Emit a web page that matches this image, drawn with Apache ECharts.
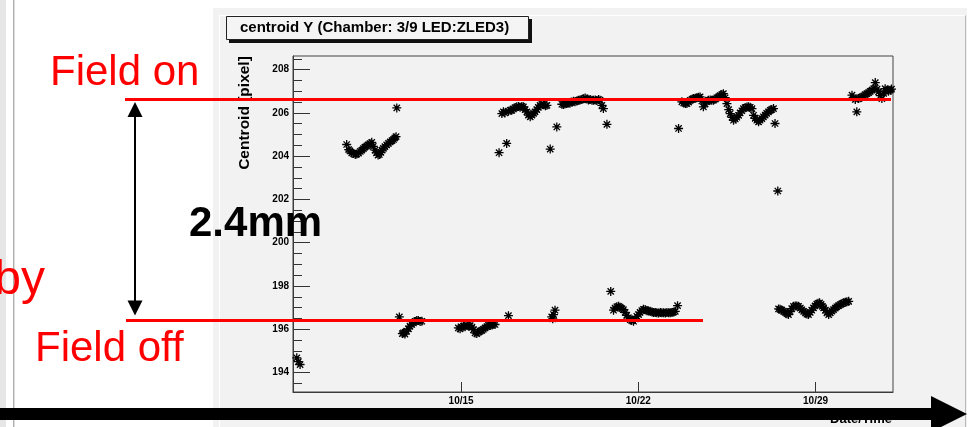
<!DOCTYPE html>
<html>
<head>
<meta charset="utf-8">
<script src="https://cdn.jsdelivr.net/npm/echarts@6/dist/echarts.min.js"></script>
<style>
html,body{margin:0;padding:0;background:#fff;}
#chart{width:970px;height:427px;}
</style>
</head>
<body>
<div id="chart"></div>
<script>
// ---- data (x: day of October, fractional; y: centroid Y [pixel]) ----
const dayOfOctober = [
  8.51, 8.57, 8.64,
  10.48, 10.56, 10.61, 10.68, 10.75, 10.82, 10.88, 10.95, 11.02, 11.08, 11.14, 11.20, 11.27, 11.33, 11.40, 11.47,
  11.53, 11.60, 11.66, 11.72, 11.77, 11.83, 11.88, 11.93, 11.99, 12.06, 12.13, 12.20, 12.27, 12.33, 12.38, 12.43, 12.46,
  12.56, 12.68, 12.72, 12.78, 12.85, 12.92, 12.98, 13.05, 13.12, 13.18, 13.25, 13.31, 13.38, 13.45,
  14.89, 14.96, 15.02, 15.09, 15.16, 15.23, 15.30, 15.36, 15.43, 15.49, 15.55, 15.62, 15.69, 15.75, 15.82, 15.88,
  15.95, 16.02, 16.08, 16.15, 16.22, 16.28, 16.34, 16.87,
  16.50, 16.61, 16.67, 16.73, 16.80, 16.87, 16.94, 17.00, 17.07, 17.13, 17.20, 17.27, 17.33, 17.40, 17.46, 17.53,
  17.60, 17.66, 17.73, 17.80, 17.86, 17.92, 17.99, 18.05, 18.12, 18.19, 18.26, 18.33, 18.39, 18.52, 18.78,
  18.58, 18.62, 18.65, 18.71,
  18.98, 19.04, 19.10, 19.17, 19.24, 19.30, 19.37, 19.44, 19.50, 19.57, 19.64, 19.70, 19.77, 19.84, 19.90, 19.97,
  20.03, 20.10, 20.17, 20.23, 20.30, 20.36, 20.43, 20.49, 20.56, 20.62, 20.76,
  20.91, 21.02, 21.08, 21.15, 21.22, 21.28, 21.35, 21.41, 21.48, 21.54, 21.61, 21.68, 21.74, 21.81, 21.88, 21.94,
  22.01, 22.07, 22.14, 22.20, 22.27, 22.34, 22.40, 22.47, 22.54, 22.60, 22.67, 22.73, 22.80, 22.87, 22.93, 23.00,
  23.07, 23.13, 23.20, 23.26, 23.33, 23.40, 23.46, 23.55,
  23.59, 23.72, 23.79, 23.86, 23.92, 23.99, 24.05, 24.12, 24.18, 24.25, 24.31, 24.38, 24.44, 24.51, 24.57, 24.64,
  24.70, 24.77, 24.84, 24.90, 24.97, 25.04, 25.10, 25.17, 25.23, 25.30, 25.36, 25.43, 25.50, 25.57, 25.63, 25.70,
  25.76, 25.83, 25.89, 25.96, 26.02, 26.09, 26.15, 26.22, 26.29, 26.35, 26.42, 26.49, 26.55, 26.62, 26.68, 26.75,
  26.81, 26.88, 26.94, 27.01, 27.07, 27.14, 27.21, 27.27, 27.34, 27.40, 27.51,
  27.54, 27.60, 27.67, 27.74, 27.80, 27.87, 27.93, 28.00, 28.06, 28.13, 28.20, 28.26, 28.33, 28.40, 28.46, 28.53,
  28.60, 28.66, 28.72, 28.79, 28.85, 28.92, 28.98, 29.05, 29.10, 29.16, 29.22, 29.27, 29.32, 29.39, 29.45, 29.52,
  29.58, 29.65, 29.71, 29.78, 29.84, 29.91, 29.98, 30.04, 30.11, 30.18, 30.24, 30.31,
  30.44, 30.50, 30.57, 30.63, 30.70, 30.76, 30.83, 30.90, 30.96, 31.03, 31.10, 31.16, 31.23, 31.30, 31.36, 31.43,
  31.49, 31.56, 31.62, 31.69, 31.75, 31.82, 31.88, 31.95, 32.00
];
const centroidY = [
  194.68, 194.50, 194.37,
  204.54, 204.30, 204.24, 204.15, 204.12, 204.08, 204.10, 204.14, 204.22, 204.28, 204.35, 204.42, 204.47, 204.52, 204.58, 204.64,
  204.45, 204.28, 204.15, 204.05, 204.08, 204.18, 204.28, 204.36, 204.44, 204.52, 204.59, 204.66, 204.72, 204.77, 204.84, 204.90, 206.23,
  196.57, 195.80, 195.83, 195.78, 195.91, 196.02, 196.14, 196.22, 196.29, 196.36, 196.40, 196.41, 196.36, 196.37,
  196.06, 196.02, 196.10, 196.14, 196.12, 196.18, 196.14, 196.17, 196.10, 195.98, 195.83, 195.80, 195.87, 195.91, 195.95, 196.00,
  196.06, 196.12, 196.18, 196.17, 196.20, 196.24, 196.22, 196.63,
  204.16, 205.97, 206.05, 206.00, 204.59, 206.08, 206.12, 206.12, 206.18, 206.24, 206.28, 206.30, 206.26, 206.30, 206.28, 206.15,
  206.05, 205.90, 205.82, 205.90, 205.98, 206.05, 206.15, 206.26, 206.35, 206.40, 206.38, 206.33, 206.35, 204.33, 205.35,
  196.57, 196.48, 196.68, 196.88,
  206.40, 206.39, 206.41, 206.44, 206.46, 206.45, 206.50, 206.54, 206.52, 206.55, 206.58, 206.60, 206.62, 206.65, 206.69, 206.64,
  206.60, 206.62, 206.58, 206.59, 206.60, 206.57, 206.62, 206.59, 206.35, 206.20, 205.47,
  197.75, 196.88, 196.98, 197.04, 197.06, 197.02, 196.95, 196.91, 196.78, 196.64, 196.53, 196.44, 196.40, 196.37, 196.48, 196.60,
  196.68, 196.78, 196.86, 196.92, 196.91, 196.86, 196.84, 196.83, 196.80, 196.78, 196.77, 196.76, 196.75, 196.77, 196.76, 196.76,
  196.75, 196.77, 196.76, 196.76, 196.78, 196.80, 196.83, 197.09,
  205.28, 206.51, 206.46, 206.44, 206.43, 206.50, 206.58, 206.63, 206.66, 206.68, 206.70, 206.72, 206.74, 206.55, 206.28, 206.42,
  206.52, 206.59, 206.60, 206.58, 206.59, 206.64, 206.70, 206.74, 206.80, 206.85, 206.89, 206.70, 206.43, 206.15, 205.97, 205.80,
  205.66, 205.72, 205.80, 205.89, 206.00, 206.10, 206.20, 206.24, 206.27, 206.28, 206.26, 206.20, 205.89, 205.75, 205.66, 205.59,
  205.66, 205.74, 205.82, 205.90, 205.98, 206.05, 206.12, 206.16, 206.20, 205.51, 202.39,
  196.94, 196.92, 196.88, 196.83, 196.78, 196.72, 196.68, 196.82, 196.95, 197.06, 197.08, 197.07, 197.06, 196.98, 196.90, 196.83,
  196.76, 196.70, 196.68, 196.78, 196.88, 196.99, 197.08, 197.16, 197.20, 197.22, 197.15, 197.06, 196.99, 196.88, 196.76, 196.68,
  196.76, 196.84, 196.91, 196.98, 197.04, 197.09, 197.14, 197.18, 197.22, 197.25, 197.27, 197.29,
  206.82, 206.70, 206.62, 206.05, 206.66, 206.70, 206.74, 206.78, 206.84, 206.89, 206.94, 207.00, 207.05, 207.12, 207.40, 207.10,
  206.97, 206.80, 206.66, 206.90, 207.12, 207.05, 207.00, 207.05, 207.10
];
// axis ticks
const xTickValues = [15, 22, 29];
const xTickLabels = ['10/15', '10/22', '10/29'];
const xTickTimes = ['00:00', '00:00', '00:00'];
const yMajorTicks = [194, 196, 198, 200, 202, 204, 206, 208];
const yMinorTicks = [193.5,194,194.5,195,195.5,196,196.5,197,197.5,198,198.5,199,199.5,200,200.5,201,201.5,202,202.5,203,203.5,204,204.5,205,205.5,206,206.5,207,207.5,208,208.5];
// annotation levels
const fieldOnLevel = 206.62;
const fieldOffLevel = 196.40;

const TEXT_FONT = '"Liberation Sans", Arial, Helvetica, sans-serif';
const points = dayOfOctober.map((d, i) => [d, centroidY[i]]);
const X_MIN = 8.36, X_MAX = 32.06, Y_MIN = 193.1, Y_MAX = 208.63;

const chart = echarts.init(document.getElementById('chart'), null, {renderer: 'canvas'});
const asterisk = 'path://M4,0L4,8M0,4L8,4M1.2,1.2L6.8,6.8M1.2,6.8L6.8,1.2';

chart.setOption({
  animation: false,
  backgroundColor: '#ffffff',
  grid: {left: 293, right: 77, top: 56, bottom: 35, show: true, borderColor: '#444', borderWidth: 1, backgroundColor: 'transparent', z: 1},
  xAxis: {
    type: 'value', min: X_MIN, max: X_MAX,
    axisLine: {show: true, onZero: false, lineStyle: {color: '#333', width: 1}},
    axisTick: {show: true, inside: true, length: 10, customValues: xTickValues, lineStyle: {color: '#333'}},
    axisLabel: {show: true, customValues: xTickValues, margin: 3, fontSize: 10, fontWeight: 'bold', color: '#000', fontFamily: TEXT_FONT, lineHeight: 12,
      formatter: v => { const i = xTickValues.indexOf(v); return i >= 0 ? xTickLabels[i] + '\n' + xTickTimes[i] : ''; }},
    splitLine: {show: false}
  },
  yAxis: [{
    type: 'value', min: Y_MIN, max: Y_MAX, position: 'left',
    axisLine: {show: true, onZero: false, lineStyle: {color: '#333', width: 1}},
    axisTick: {show: true, inside: true, length: 17, customValues: yMajorTicks, lineStyle: {color: '#333'}},
    axisLabel: {show: true, customValues: yMajorTicks, margin: 4, fontSize: 10, fontWeight: 'bold', color: '#000', fontFamily: TEXT_FONT},
    splitLine: {show: false}
  }, {
    type: 'value', min: Y_MIN, max: Y_MAX, position: 'left',
    axisLine: {show: false},
    axisTick: {show: true, inside: true, length: 9, customValues: yMinorTicks, lineStyle: {color: '#333'}},
    axisLabel: {show: false},
    splitLine: {show: false}
  }],
  series: [{
    type: 'scatter', data: points, symbol: asterisk, symbolSize: 9, z: 3,
    itemStyle: {color: '#000', borderColor: '#000', borderWidth: 1.3, opacity: 1}
  }]
});

const onY = chart.convertToPixel({yAxisIndex: 0}, fieldOnLevel);
const offY = chart.convertToPixel({yAxisIndex: 0}, fieldOffLevel);

chart.setOption({
  graphic: [
    // ROOT canvas background
    {type: 'rect', z: -10, silent: true, shape: {x: 213, y: 8, width: 754, height: 430}, style: {fill: '#f2f2f2'}},
    {type: 'line', z: -9, shape: {x1: 219.5, y1: 15.5, x2: 965, y2: 15.5}, style: {stroke: '#ffffff', lineWidth: 1}},
    {type: 'line', z: -9, shape: {x1: 219.5, y1: 15.5, x2: 219.5, y2: 427}, style: {stroke: '#ffffff', lineWidth: 1}},
    {type: 'line', z: -9, shape: {x1: 965.5, y1: 15.5, x2: 965.5, y2: 427}, style: {stroke: '#b8b8b8', lineWidth: 1}},
    // slide left window border
    {type: 'rect', z: -10, shape: {x: 0, y: 0, width: 6, height: 427}, style: {fill: '#e6e6e6'}},
    {type: 'line', z: -9, shape: {x1: 13.5, y1: 0, x2: 13.5, y2: 427}, style: {stroke: '#b0b0b0', lineWidth: 1}},
    {type: 'line', z: -9, shape: {x1: 14.5, y1: 0, x2: 14.5, y2: 427}, style: {stroke: '#dcdcdc', lineWidth: 1}},
    // title box
    {type: 'rect', z: 5, shape: {x: 229, y: 19, width: 303, height: 24}, style: {fill: '#111'}},
    {type: 'rect', z: 6, shape: {x: 226.5, y: 16.5, width: 302, height: 23}, style: {fill: '#f4f4f4', stroke: '#222', lineWidth: 1}},
    {type: 'text', z: 7, x: 240, y: 28, style: {text: 'centroid Y (Chamber: 3/9 LED:ZLED3)', font: 'bold 15px ' + TEXT_FONT, fill: '#000', verticalAlign: 'middle', align: 'left'}},
    // y axis title
    {type: 'text', z: 7, x: 245, y: 113, rotation: Math.PI / 2, style: {text: 'Centroid [pixel]', font: 'bold 15.5px ' + TEXT_FONT, fill: '#000', align: 'center', verticalAlign: 'middle'}},
    // Date/Time
    {type: 'text', z: 7, x: 892, y: 419, style: {text: 'Date/Time', font: 'bold 13px ' + TEXT_FONT, fill: '#000', align: 'right', verticalAlign: 'middle'}},
    // red level lines
    {type: 'line', z: 20, shape: {x1: 125, y1: onY, x2: 891, y2: onY}, style: {stroke: '#ff0000', lineWidth: 3}},
    {type: 'line', z: 20, shape: {x1: 126, y1: offY, x2: 703, y2: offY}, style: {stroke: '#ff0000', lineWidth: 3}},
    // vertical double arrow
    {type: 'line', z: 20, shape: {x1: 135, y1: onY + 12, x2: 135, y2: offY - 14}, style: {stroke: '#000', lineWidth: 2}},
    {type: 'polygon', z: 20, shape: {points: [[135, onY + 2.5], [127.5, onY + 17.5], [142.5, onY + 17.5]]}, style: {fill: '#000'}},
    {type: 'polygon', z: 20, shape: {points: [[135, offY - 5], [127.5, offY - 20], [142.5, offY - 20]]}, style: {fill: '#000'}},
    // slide texts
    {type: 'text', z: 21, x: 50, y: 73, style: {text: 'Field on', font: '42px ' + TEXT_FONT, fill: '#ff0000', align: 'left', verticalAlign: 'middle'}},
    {type: 'text', z: 21, x: 35, y: 349, style: {text: 'Field off', font: '42px ' + TEXT_FONT, fill: '#ff0000', align: 'left', verticalAlign: 'middle'}},
    {type: 'text', z: 21, x: 45, y: 281, style: {text: 'by', font: '48px ' + TEXT_FONT, fill: '#ff0000', align: 'right', verticalAlign: 'middle'}},
    {type: 'text', z: 21, x: 189, y: 224, style: {text: '2.4mm', font: 'bold 42px ' + TEXT_FONT, fill: '#000', align: 'left', verticalAlign: 'middle'}},
    // big time arrow
    {type: 'rect', z: 30, shape: {x: 0, y: 408, width: 933, height: 12}, style: {fill: '#000'}},
    {type: 'polygon', z: 30, shape: {points: [[931, 396], [967, 414], [931, 432]]}, style: {fill: '#000'}}
  ]
});
</script>
</body>
</html>
